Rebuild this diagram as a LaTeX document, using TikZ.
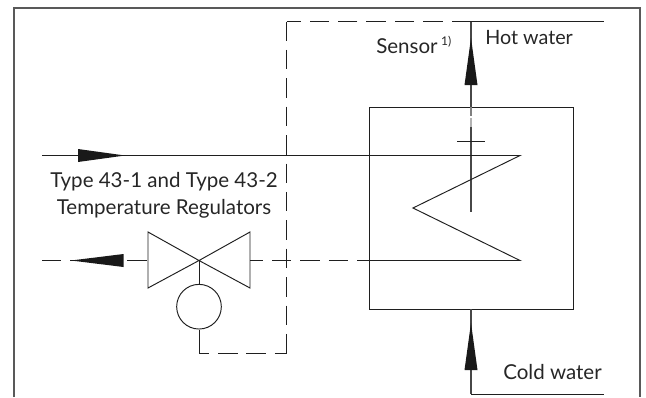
\documentclass[tikz,border=0pt]{standalone}
\usepackage{fontspec}
\setmainfont{Lato}
\usetikzlibrary{calc}
\tikzset{
  px/.style={x=0.75pt,y=-0.75pt},
  pipe/.style={draw=black!88,line width=0.72pt},
  dashpipe/.style={pipe,dash pattern=on 14.6pt off 6.7pt},
  thickpipe/.style={draw=black!72,line width=1pt},
  frameline/.style={draw=black!65,line width=1.1pt},
  label/.style={inner sep=0pt,text=black!85,font=\fontsize{15.4pt}{18pt}\selectfont,align=center},
  tipfill/.style={fill=black!90,draw=none}
}
\begin{document}
\begin{tikzpicture}[px]
\useasboundingbox (0,0) rectangle (646,397);
% frame
\draw[frameline] (14,397) -- (14,8) -- (640,8) -- (640,397);
% coordinates
\coordinate (hotEnd) at (604,21.5);
\coordinate (hotCorner) at (471,21.5);
\coordinate (dashCorner) at (286.5,21.5);
\coordinate (dashLow) at (286.5,353);
\coordinate (actLow) at (199,353);
\coordinate (inStart) at (42,155.5);
\coordinate (zigA) at (520,155.5);
\coordinate (zigB) at (413,208);
\coordinate (zigC) at (520,260.5);
\coordinate (outStart) at (42,260.5);
\coordinate (solidStart) at (357,260.5);
\coordinate (sensorEnd) at (471,212);
\coordinate (coldCorner) at (471,394);
\coordinate (coldEnd) at (604,394);
\coordinate (tickL) at (457,141);
\coordinate (tickR) at (485,141);
\coordinate (valveL) at (148,260.5);
\coordinate (valveC) at (199,260.5);
\coordinate (valveR) at (250,260.5);
% heat exchanger
\node[draw=black!88,line width=0.72pt,minimum width=153pt,minimum height=151.5pt,inner sep=0pt,anchor=north west] (hx) at (369,106.5) {};
% actuator
\node[circle,draw=black!88,line width=0.72pt,minimum size=33.5pt,inner sep=0pt] (act) at (199,306.7) {};
% valve
\draw[pipe,line join=miter] (valveC) -- (148,232) -- (148,288) -- cycle;
\draw[pipe,line join=miter] (valveC) -- (250,232) -- (250,288) -- cycle;
\draw[pipe] (valveC) -- (act.north);
% capillary
\draw[pipe] (act.south) -- (actLow);
\draw[dashpipe,dash phase=7pt] (actLow) -- (dashLow);
\draw[dashpipe] (dashCorner) -- (dashLow);
\draw[dashpipe] (hotCorner) -- (dashCorner);
% sensor line
\draw[pipe] (hotCorner) -- (hotEnd);
\draw[thickpipe] (hotCorner) -- (hx.north -| hotCorner);
\draw[draw=black!50,line width=0.9pt] (hx.north -| hotCorner) -- ++(0,9);
\draw[draw=black!30,line width=0.9pt] (471,118) -- (471,127);
\draw[thickpipe] (471,127) -- (sensorEnd);
\draw[pipe] (tickL) -- (tickR);
% coil
\draw[pipe,line join=miter] (inStart) -- (zigA) -- (zigB) -- (zigC) -- (solidStart);
\draw[dashpipe] (outStart) -- (valveL);
\draw[dashpipe] (valveR) -- ++(13,0);
\draw[dashpipe] (272,260.5) -- (solidStart);
% cold water
\draw[thickpipe] (hx.south -| hotCorner) -- (coldCorner);
\draw[pipe] (coldCorner) -- (coldEnd);
% arrowheads
\fill[tipfill] (78,149) -- (125,155.5) -- (78,162) -- cycle;
\fill[tipfill] (71,260.5) -- (123.5,254) -- (123.5,267) -- cycle;
\fill[tipfill] (471,38) -- (477.5,85) -- (464.5,85) -- cycle;
\fill[tipfill] (471,323) -- (477.5,370) -- (464.5,370) -- cycle;
% labels
\node[label,anchor=base] (tlabel) at (164,187) {Type 43-1 and Type 43-2};
\node[label,anchor=base] (tlabel2) at (164,214) {Temperature Regulators};
\node[label,anchor=base west] (sensor) at (376,53) {Sensor\,\raisebox{5.5pt}{\fontsize{9pt}{10pt}\selectfont 1)}};
\node[label,anchor=base west,font=\fontsize{14.8pt}{18pt}\selectfont] (hot) at (485,44) {Hot water};
\node[label,anchor=base west] (cold) at (503,379) {Cold water};
\end{tikzpicture}
\end{document}
